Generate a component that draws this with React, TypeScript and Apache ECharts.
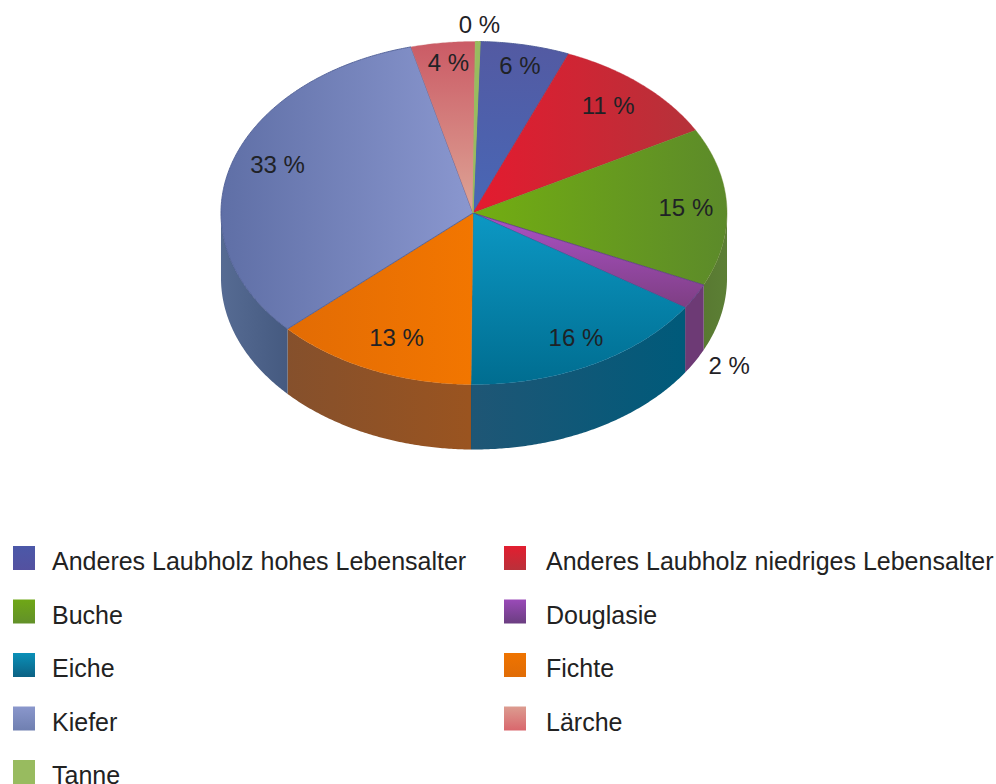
import React, { useEffect, useRef } from "react";
import * as echarts from "echarts";

const species = [
  "Anderes Laubholz hohes Lebensalter",
  "Anderes Laubholz niedriges Lebensalter",
  "Buche",
  "Douglasie",
  "Eiche",
  "Fichte",
  "Kiefer",
  "Lärche",
  "Tanne",
];
const shares = [5.7, 10.9, 14.9, 2.4, 15.9, 13.0, 32.8, 4.1, 0.3];
const labelTexts = ["6 %", "11 %", "15 %", "2 %", "16 %", "13 %", "33 %", "4 %", "0 %"];

const CX = 474;
const APEX_X = 473;
const CY = 213;
const RX = 253;
const RY = 171.5;
const DEPTH = 65;
const START_DEG = 1.4;

const labelFx = [0.9, 0.8, 0.838, 1.155, 0.86, 0.75, 0.81, 0.82, 1.45];
const labelFy = [0.877, 0.84, 0.84, 1.83, 0.82, 0.797, 0.985, 0.884, 1.1];

type G = { type: "linear"; x: number; y: number; x2: number; y2: number; global: boolean; colorStops: { offset: number; color: string }[] };
const grad = (x: number, y: number, x2: number, y2: number, a: string, b: string): G => ({
  type: "linear", x, y, x2, y2, global: true,
  colorStops: [{ offset: 0, color: a }, { offset: 1, color: b }],
});
const iconGrad = (a: string, b: string): G => ({
  type: "linear", x: 0, y: 0, x2: 0, y2: 1, global: false,
  colorStops: [{ offset: 0, color: a }, { offset: 0.8, color: b }, { offset: 1, color: b }],
});

const topFills = [
  grad(0, 42, 0, 213, "#535aa2", "#4867b6"),
  grad(480, 0, 695, 0, "#e31b2f", "#b5323a"),
  grad(480, 0, 727, 0, "#72ad12", "#5c8a2a"),
  grad(0, 225, 0, 305, "#a64fbe", "#7f3f85"),
  grad(0, 213, 0, 385, "#0c98c4", "#006d90"),
  grad(290, 0, 473, 0, "#e36c04", "#f27600"),
  grad(221, 0, 473, 0, "#5f6fa6", "#8a97cf"),
  grad(0, 45, 0, 213, "#cb5c66", "#dea596"),
  grad(0, 42, 0, 213, "#98bb5f", "#98bb5f"),
];
const sideFills = [
  "#3f4f88",
  "#8e2a2e",
  grad(683, 0, 727, 0, "#56752f", "#5c7f35"),
  "#6d3a75",
  grad(470, 0, 683, 0, "#1f5675", "#005a7a"),
  grad(287, 0, 470, 0, "#85502c", "#9a5420"),
  grad(221, 0, 287, 0, "#566b93", "#455a80"),
  "#a05050",
  "#708a48",
];
const topStrokes = [
  "rgba(75,90,150,0.9)", "rgba(190,40,55,0.4)", "rgba(100,130,40,0.4)", "rgba(90,60,130,0.8)",
  "rgba(10,110,150,0.4)", "rgba(220,110,10,0.4)", "rgba(80,95,150,0.9)", "rgba(200,120,120,0.3)", "#98bb5f",
];
const legendColors = [
  iconGrad("#4b58a8", "#5451a0"),
  iconGrad("#e21e30", "#b9313a"),
  iconGrad("#6fa716", "#62902a"),
  iconGrad("#9a4ab8", "#6a3e80"),
  iconGrad("#0a90b8", "#0c6183"),
  iconGrad("#ef7400", "#e06c06"),
  iconGrad("#8a97cc", "#6f7fb0"),
  iconGrad("#dc9c90", "#d9666c"),
  iconGrad("#98bb5f", "#98bb5f"),
];

const FONT = '"Liberation Sans", Arial, sans-serif';
const total = shares.reduce((a, b) => a + b, 0);

const rim = (tDeg: number, dy = 0): number[] => {
  const t = (tDeg * Math.PI) / 180;
  return [CX + RX * Math.sin(t), CY + dy - RY * Math.cos(t)];
};

const sampleArc = (a: number, b: number, dy = 0): number[][] => {
  const n = Math.max(2, Math.ceil((b - a) / 0.5));
  const out: number[][] = [];
  for (let i = 0; i <= n; i++) out.push(rim(a + ((b - a) * i) / n, dy));
  return out;
};

const makeRender = (index: number) => (_params: any, api: any) => {
  const before = shares.slice(0, index).reduce((a, b) => a + b, 0);
  const value = api.value(0);
  const a = START_DEG + (before / total) * 360;
  const b = a + (value / total) * 360;
  const children: any[] = [];

  // outer wall: only the front half (90°..270°) faces the viewer
  const wa = Math.max(a, 90);
  const wb = Math.min(b, 270);
  if (wb > wa) {
    const upper = sampleArc(wa, wb);
    const lower = sampleArc(wa, wb, DEPTH).reverse();
    children.push({
      type: "polygon",
      z2: 1,
      shape: { points: upper.concat(lower) },
      style: { fill: sideFills[index], stroke: "rgba(0,0,0,0.04)", lineWidth: 0.5 },
    });
  }
  children.push({
    type: "polygon",
    z2: 2,
    shape: { points: [[APEX_X, CY], ...sampleArc(a, b)] },
    style: { fill: topFills[index], stroke: topStrokes[index], lineWidth: 1 },
  });

  const mid = (((a + b) / 2) * Math.PI) / 180;
  children.push({
    type: "text",
    z2: 10,
    style: {
      text: labelTexts[index],
      x: CX + RX * labelFx[index] * Math.sin(mid),
      y: CY - RY * labelFy[index] * Math.cos(mid),
      align: "center",
      verticalAlign: "middle",
      font: `24px ${FONT}`,
      fill: "#1f2226",
    },
  });
  return { type: "group", children };
};

const ROW = 53.5;
// the swatch is 24 high inside a 30.5 high symbol box, which drops the text 3px below its middle
const SWATCH = "path://M0 0H22V24H0Z M0 30.5L0 30.5";
const legendBlock = (left: number, gapText: number, from: number, rows: number[]) => ({
  orient: "vertical" as const,
  left,
  top: 546 + from * ROW,
  padding: 0,
  itemWidth: 22,
  itemHeight: 30.5,
  itemGap: ROW - 30.5,
  icon: SWATCH,
  selectedMode: false,
  textStyle: { fontFamily: FONT, fontSize: 25, color: "#222222", padding: [0, 0, 0, gapText] },
  data: rows.map((i) => ({ name: species[i], itemStyle: { color: legendColors[i] } })),
});

export default function App() {
  const ref = useRef<HTMLDivElement>(null);
  useEffect(() => {
    const chart = echarts.init(ref.current!, undefined, { renderer: "svg" });
    chart.setOption({
      animation: false,
      backgroundColor: "#ffffff",
      legend: [
        legendBlock(13, 12, 0, [0, 2, 4, 6]),
        legendBlock(504, 15, 0, [1, 3, 5, 7]),
        legendBlock(13, 12, 4, [8]),
      ],
      series: species.map((name, i) => ({
        type: "custom",
        name,
        coordinateSystem: "none",
        silent: true,
        itemStyle: { color: "#888" },
        data: [[shares[i]]],
        renderItem: makeRender(i),
      })),
    });
    return () => chart.dispose();
  }, []);
  return <div ref={ref} style={{ position: "absolute", left: 0, top: 0, width: 996, height: 784 }} />;
}
